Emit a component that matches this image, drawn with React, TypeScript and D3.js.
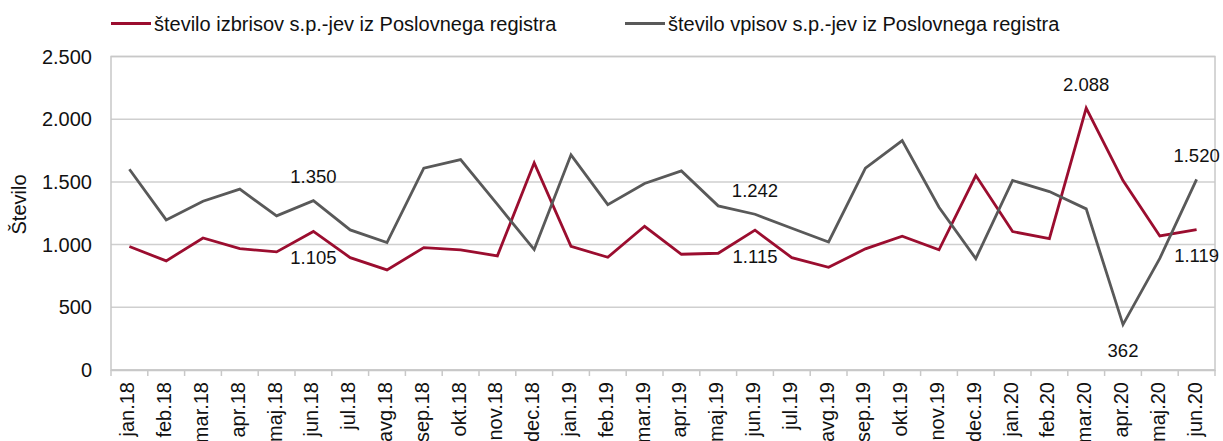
import React, { useEffect, useRef } from 'react';
import * as d3 from 'd3';

const months = [
  'jan.18', 'feb.18', 'mar.18', 'apr.18', 'maj.18', 'jun.18', 'jul.18', 'avg.18', 'sep.18', 'okt.18', 'nov.18', 'dec.18',
  'jan.19', 'feb.19', 'mar.19', 'apr.19', 'maj.19', 'jun.19', 'jul.19', 'avg.19', 'sep.19', 'okt.19', 'nov.19', 'dec.19',
  'jan.20', 'feb.20', 'mar.20', 'apr.20', 'maj.20', 'jun.20',
];

// število izbrisov s.p.-jev
const izbrisi = [
  985, 870, 1053, 968, 942, 1105, 896, 798, 976, 958, 910, 1652,
  987, 899, 1146, 923, 931, 1115, 896, 819, 966, 1067, 958, 1551,
  1104, 1048, 2088, 1511, 1069, 1119,
];

// število vpisov s.p.-jev
const vpisi = [
  1601, 1197, 1346, 1442, 1229, 1350, 1117, 1016, 1609, 1678, 1320, 960,
  1716, 1319, 1487, 1588, 1309, 1242, 1130, 1021, 1609, 1830, 1298, 888,
  1511, 1423, 1285, 362, 890, 1520,
];

const yTicks = [0, 500, 1000, 1500, 2000, 2500];

const seriesNames = [
  'število izbrisov s.p.-jev iz Poslovnega registra',
  'število vpisov s.p.-jev iz Poslovnega registra',
];

// which points carry a value label: [series, month index, above?]
const labelled: [number, number, boolean][] = [
  [1, 5, true], [0, 5, false],
  [1, 17, true], [0, 17, false],
  [0, 26, true], [1, 27, false],
  [1, 29, true], [0, 29, false],
];

const RED = '#9b0d2f';
const GRAY = '#595959';

const slo = d3.formatLocale({ decimal: ',', thousands: '.', grouping: [3], currency: ['', ' €'] });
const fmt = slo.format(',d');

const App = () => {
  const svgRef = useRef<SVGSVGElement>(null);

  useEffect(() => {
    const svg = d3.select(svgRef.current);
    svg.selectAll('*').remove();

    const width = 1223;
    const height = 441;
    const plot = { left: 111, right: 1215, top: 56.5, bottom: 370 };
    const font = 'Liberation Sans, Arial, sans-serif';

    svg.attr('width', width).attr('height', height).style('font-family', font);

    const x = d3.scaleBand().domain(months).range([plot.left, plot.right]);
    const y = d3.scaleLinear().domain([0, 2500]).range([plot.bottom, plot.top]);
    const cx = (i: number) => (x(months[i]) as number) + x.bandwidth() / 2;

    // gridlines
    svg.append('g')
      .selectAll('line')
      .data(yTicks)
      .enter()
      .append('line')
      .attr('x1', plot.left)
      .attr('x2', plot.right)
      .attr('y1', d => y(d))
      .attr('y2', d => y(d))
      .attr('stroke', '#cfcfcf')
      .attr('stroke-width', 1.5);

    // plot border
    svg.append('rect')
      .attr('x', plot.left)
      .attr('y', plot.top)
      .attr('width', plot.right - plot.left)
      .attr('height', plot.bottom - plot.top)
      .attr('fill', 'none')
      .attr('stroke', '#c8c8c8')
      .attr('stroke-width', 1.5);

    // y tick labels
    svg.append('g')
      .selectAll('text')
      .data(yTicks)
      .enter()
      .append('text')
      .attr('x', 92)
      .attr('y', d => y(d))
      .attr('dy', '0.35em')
      .attr('text-anchor', 'end')
      .attr('font-size', 20)
      .attr('fill', '#111')
      .text(d => fmt(d));

    // x axis with ticks between categories
    const xAxis = svg.append('g')
      .attr('transform', `translate(0, ${plot.bottom})`)
      .call(d3.axisBottom(x).tickSize(0).tickFormat(() => ''));
    xAxis.select('.domain').attr('stroke', '#c8c8c8').attr('stroke-width', 1.5);

    svg.append('g')
      .selectAll('line')
      .data(d3.range(months.length + 1))
      .enter()
      .append('line')
      .attr('x1', i => plot.left + i * x.step())
      .attr('x2', i => plot.left + i * x.step())
      .attr('y1', plot.bottom)
      .attr('y2', plot.bottom + 6)
      .attr('stroke', '#c8c8c8')
      .attr('stroke-width', 1.5);

    svg.append('g')
      .selectAll('text')
      .data(months)
      .enter()
      .append('text')
      .attr('transform', (d, i) => `translate(${cx(i) + 5}, ${plot.bottom + 12}) rotate(-90)`)
      .attr('text-anchor', 'end')
      .attr('font-size', 20)
      .attr('fill', '#111')
      .text(d => d);

    // y axis title
    svg.append('text')
      .attr('transform', `translate(26, 204.5) rotate(-90)`)
      .attr('text-anchor', 'middle')
      .attr('font-size', 20)
      .attr('fill', '#111')
      .text('Število');

    // lines
    const line = d3.line<number>()
      .x((d, i) => cx(i))
      .y(d => y(d));

    [izbrisi, vpisi].forEach((vals, s) => {
      svg.append('path')
        .datum(vals)
        .attr('d', line)
        .attr('fill', 'none')
        .attr('stroke', s === 0 ? RED : GRAY)
        .attr('stroke-width', 2.8)
        .attr('stroke-linejoin', 'miter');
    });

    // value labels
    svg.append('g')
      .selectAll('text')
      .data(labelled)
      .enter()
      .append('text')
      .attr('x', d => cx(d[1]))
      .attr('y', d => {
        const v = (d[0] === 0 ? izbrisi : vpisi)[d[1]];
        return y(v) + (d[2] ? -24 : 26);
      })
      .attr('dy', '0.35em')
      .attr('text-anchor', 'middle')
      .attr('font-size', 18.5)
      .attr('fill', '#111')
      .text(d => fmt((d[0] === 0 ? izbrisi : vpisi)[d[1]]));

    // legend
    const legendX = [111, 625];
    seriesNames.forEach((name, s) => {
      const g = svg.append('g').attr('transform', `translate(${legendX[s]}, 23.5)`);
      g.append('line')
        .attr('x1', 0)
        .attr('x2', 40)
        .attr('stroke', s === 0 ? RED : GRAY)
        .attr('stroke-width', 3);
      g.append('text')
        .attr('x', 43)
        .attr('dy', '0.35em')
        .attr('font-size', 20)
        .attr('fill', '#111')
        .text(name);
    });
  }, []);

  return (
    <svg ref={svgRef} style={{ position: 'absolute', left: 0, top: 0 }}></svg>
  );
};

export default App;
